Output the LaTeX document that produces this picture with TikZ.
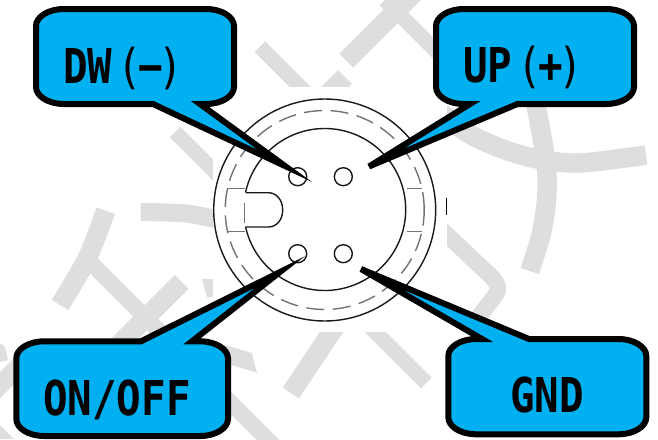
\documentclass[tikz,border=0pt]{standalone}
\usepackage{fontspec}
\setmainfont{DejaVu Sans Mono}
\definecolor{callblue}{HTML}{00B0F0}
\definecolor{wmark}{HTML}{DEDEDE}
\newcommand{\lbl}[1]{\scalebox{.85}[1]{\fontsize{48}{48}\selectfont #1}}
\newcommand{\parenl}{{\mdseries(}}
\newcommand{\parenr}{{\mdseries)}}
% #1 style, #2 L, #3 T, #4 R, #5 B, #6 tail left x, #7 tip coordinate, #8 tail right x
\newcommand{\calloutbelow}[8]{%
  \draw[callout,#1] ({#2+28},#3) -- ({#4-28},#3)
    .. controls ({#4-12},#3) and (#4,{#3+8}) .. (#4,{#3+17})
    -- (#4,{#5-17})
    .. controls (#4,{#5-8}) and ({#4-12},#5) .. ({#4-28},#5)
    -- (#8,#5) -- (#7) -- (#6,#5) -- ({#2+28},#5)
    .. controls ({#2+12},#5) and (#2,{#5-8}) .. (#2,{#5-17})
    -- (#2,{#3+17})
    .. controls (#2,{#3+8}) and ({#2+12},#3) .. ({#2+28},#3) -- cycle;}
\newcommand{\calloutabove}[8]{%
  \draw[callout,#1] ({#2+28},#3) -- (#6,#3) -- (#7) -- (#8,#3) -- ({#4-28},#3)
    .. controls ({#4-12},#3) and (#4,{#3+8}) .. (#4,{#3+17})
    -- (#4,{#5-17})
    .. controls (#4,{#5-8}) and ({#4-12},#5) .. ({#4-28},#5)
    -- ({#2+28},#5)
    .. controls ({#2+12},#5) and (#2,{#5-8}) .. (#2,{#5-17})
    -- (#2,{#3+17})
    .. controls (#2,{#3+8}) and ({#2+12},#3) .. ({#2+28},#3) -- cycle;}
\tikzset{
  wm/.style={draw=wmark,line width=15pt,line cap=butt,line join=round},
  wmwide/.style={wm,line width=19.5pt},
  callout/.style={fill=callblue,draw=black,line width=6pt,line join=miter},
  sharp/.style={miter limit=25},
  blunt/.style={miter limit=10},
  ring/.style={draw=black!90,line width=1.4pt},
  dashring/.style={draw=black!55,line width=1.4pt,dash pattern=on 18pt off 8.5pt},
  detail/.style={draw=black!55,line width=1.3pt},
  lab/.style={inner sep=0pt,anchor=base west,text=black,font=\bfseries}
}
\begin{document}
\begin{tikzpicture}[x=1pt,y=-1pt]
\useasboundingbox (0,0) rectangle (658,439);
\fill[white] (0,0) rectangle (658,439);
% watermark
\begin{scope}
\clip (0,0) rectangle (658,439);
\draw[wm] (260,46.7) -- (310,96.7);
\draw[wm] (175,132) -- (225,182);
\draw[wmwide] (346.3,60.7) -- (420,-13);
\draw[wmwide] (345,77) -- (315,107);
\draw[wm] (385,0) -- (450,65);
\draw[wmwide] plot[smooth] coordinates {(425,100) (465.7,131.7) (500,148) (537,159) (580,163) (646,155)};
\draw[wmwide] plot[smooth] coordinates {(535,100) (546,162) (546.5,200) (541,235) (529.7,271)};
\draw[wm,line width=16.5pt] plot[smooth,tension=.5] coordinates {(440,228) (480,266) (493.3,279) (497.7,290.7) (481.7,313) (475,322)};
\draw[wm] (350,307) -- (426.4,383);
\draw[wmwide] (345,312) -- (290.8,393);
\draw[wmwide] plot[smooth] coordinates {(105.7,210.7) (87.3,258.3) (60,305)};
\draw[wm,line width=18pt] plot[smooth] coordinates {(140.7,212) (190,214) (240,225)};
\draw[wm,line width=16pt] (92,264) -- (280,452);
\draw[wmwide] (181.7,282) -- (100,363.7);
\fill[wmark] (202,279) -- (213,279) -- (213,297) -- (207,297) -- cycle;
\fill[wmark] (225,345) -- (251.7,353) -- (257,372.7) -- (225,363) -- cycle;
\fill[wmark] (0,343) -- (5,347) -- (8,360) -- (0,362) -- cycle;
\fill[wmark] (0,372) -- (20,352) -- (20,378) -- (0,398) -- cycle;
\fill[wmark] (0,425) -- (14,439) -- (0,439) -- cycle;
\end{scope}
% connector picture on a white ground
\fill[white] (213,87) rectangle (447,332);
\draw[black,line width=1pt] (446,198) -- (446,215);
\draw[ring] (324.7,210) circle[radius=111pt];
\draw[dashring] (324.7,210) circle[radius=99.5pt];
\draw[ring] plot[domain=-167.7:167.7,samples=140,variable=\t] ({324.7+81*cos(\t)},{209.5+81*sin(\t)});
\draw[detail] (244.4,203) -- (244.4,223);
\draw[ring] (245.5,192.7) -- (268.3,192.7)
  .. controls (276.5,192.7) and (282.7,200) .. (282.7,210)
  .. controls (282.7,220) and (276.5,227) .. (268.3,227) -- (245.5,227);
\draw[detail] (226.7,188.7) -- (245,188.7);
\draw[detail] (226.7,231.3) -- (245,231.3);
\draw[detail] (406.7,188.7) -- (421.7,188.7);
\draw[detail] (406.7,231.3) -- (421.7,231.3);
\draw[ring] (297.7,176.7) circle[radius=9pt];
\draw[ring] (343.3,176.7) circle[radius=9pt];
\draw[ring] (297.7,253.7) circle[radius=9pt];
\draw[ring] (343.3,253.7) circle[radius=9pt];
% callouts
\coordinate (dwtip) at (285,166);
\coordinate (uptip) at (369,166.5);
\coordinate (ontip) at (280,272);
\coordinate (gndtip) at (361,269);
\calloutbelow{sharp}{36}{9}{234}{104}{153}{dwtip}{200}
\calloutbelow{blunt}{436}{9}{634}{104}{470}{uptip}{517.5}
\calloutabove{sharp}{16.3}{341.3}{228}{436}{141}{ontip}{192}
\calloutabove{blunt}{448.3}{339}{646.3}{434.3}{482}{gndtip}{529}
% labels
\node[lab] (dwlabel) at (63,83.3) {\lbl{DW\kern6pt\parenl\kern-4.5pt−\kern-4.5pt\parenr}};
\node[lab] (uplabel) at (463,82.7) {\lbl{UP\kern6pt\parenl\kern-4.5pt+\kern-4.5pt\parenr}};
\node[lab] (onlabel) at (43,415) {\lbl{ON/OFF}};
\node[lab] (gndlabel) at (510,412.7) {\lbl{GND}};
\end{tikzpicture}
\end{document}
